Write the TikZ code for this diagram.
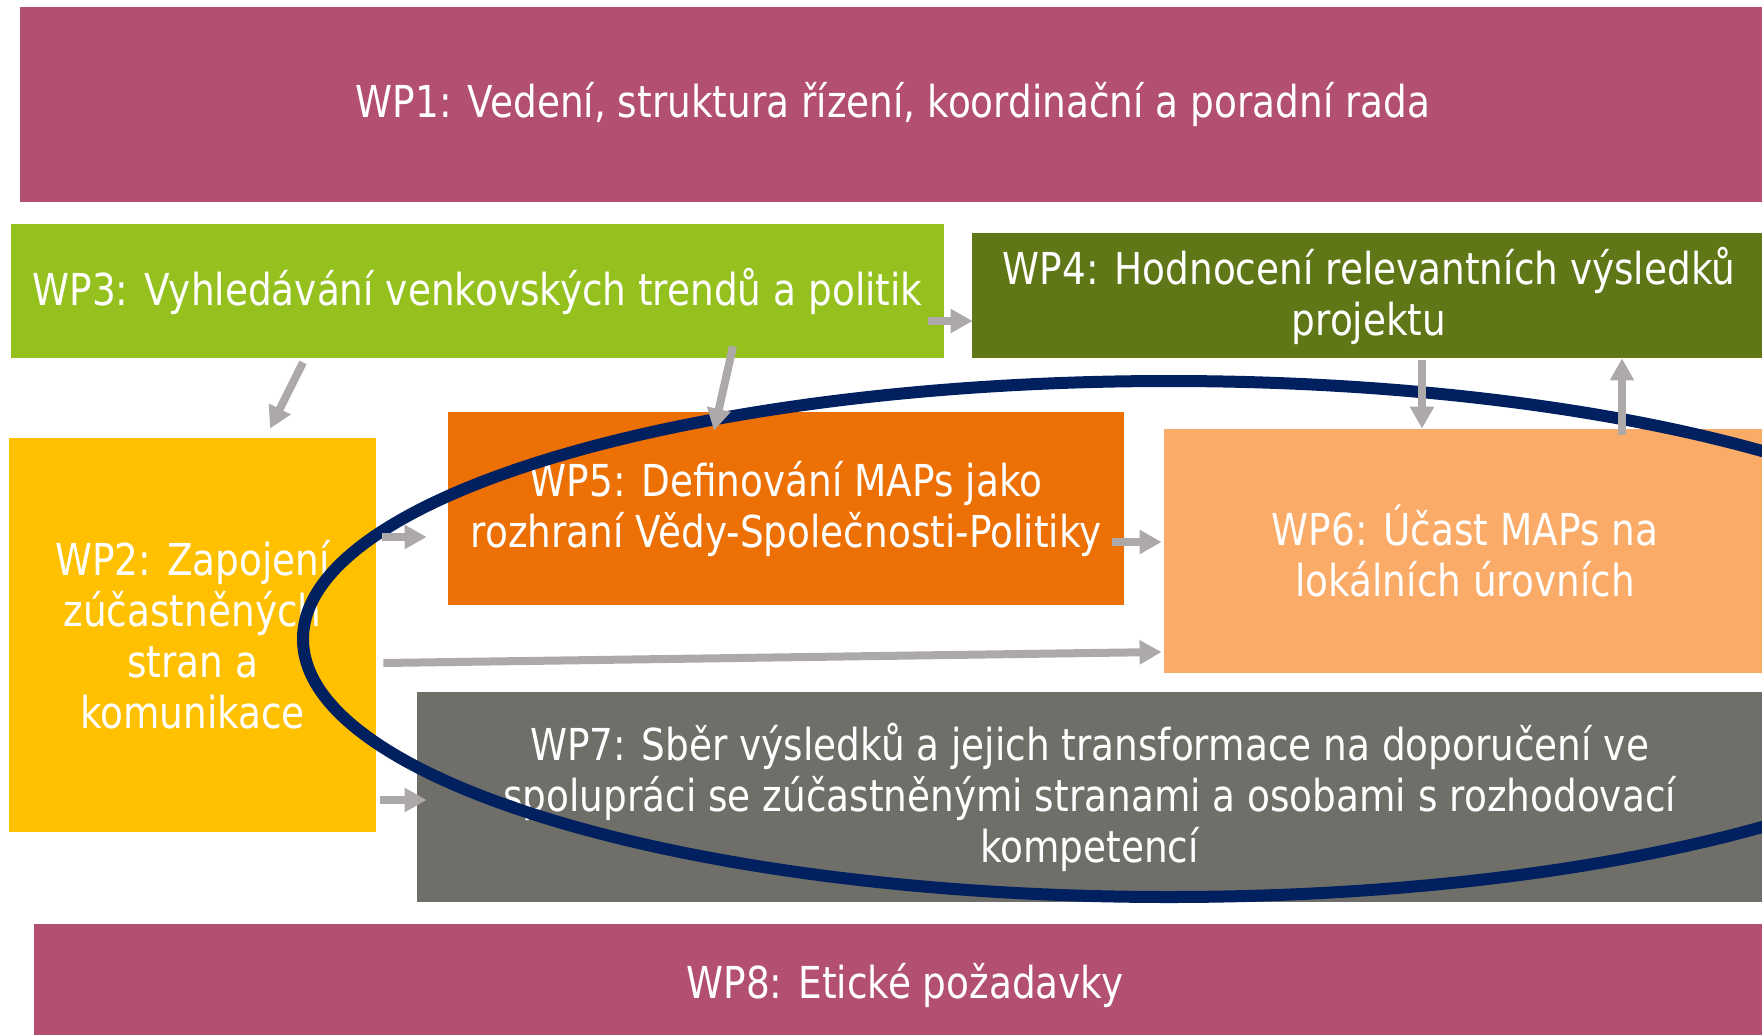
\documentclass[tikz,border=0pt]{standalone}
\usepackage{fontspec}
\setmainfont{DejaVu Sans}[FakeStretch=0.85]
\usetikzlibrary{arrows.meta,calc}
\definecolor{wpberry}{HTML}{B35071}
\definecolor{wplime}{HTML}{95C11F}
\definecolor{wpolive}{HTML}{5F7717}
\definecolor{wpyellow}{HTML}{FFC000}
\definecolor{wporange}{HTML}{EC7004}
\definecolor{wppeach}{HTML}{FBAB68}
\definecolor{wpgrey}{HTML}{706E68}
\definecolor{arrgrey}{HTML}{ADA9A9}
\definecolor{ringblue}{HTML}{002060}

\begin{document}
\begin{tikzpicture}[x=0.5pt,y=-0.5pt,
    wp/.style={rectangle, inner sep=0pt, align=center, text=white, font=\fontsize{22}{25.5}\selectfont},
    arr/.style={draw=arrgrey, line width=4pt, -{Triangle[width=11.5pt,length=11pt]}}]
	\path[use as bounding box, clip] (0,0) rectangle (1762,1034);
	\node[wp, fill=wpberry, minimum width=873pt, minimum height=97.5pt] (wp1) at (893,104.5) {WP1: Vedení, struktura řízení, koordinační a poradní rada};
	\node[wp, fill=wplime, minimum width=466.5pt, minimum height=67pt] (wp3) at (477.5,291) {WP3: Vyhledávání venkovských trendů a politik};
	\node[wp, fill=wpolive, minimum width=397pt, minimum height=62.5pt] (wp4) at (1369,295.5) {WP4: Hodnocení relevantních výsledků\\projektu};
	\node[wp, fill=wpyellow, minimum width=183.5pt, minimum height=197pt] (wp2) at (192.5,635) {WP2: Zapojení\\zúčastněných\\stran a\\komunikace};
	\node[wp, fill=wporange, minimum width=338pt, minimum height=96.5pt] (wp5) at (786,508.5) {WP5: Definování MAPs jako\\rozhraní Vědy-Společnosti-Politiky};
	\node[wp, fill=wppeach, minimum width=301pt, minimum height=122pt] (wp6) at (1465,551) {WP6: Účast MAPs na\\lokálních úrovních};
	\node[wp, fill=wpgrey, minimum width=672.5pt, minimum height=105pt] (wp7) at (1089.5,797) {WP7: Sběr výsledků a jejich transformace na doporučení ve\\spolupráci se zúčastněnými stranami a osobami s rozhodovací\\kompetencí};
	\node[wp, fill=wpberry, minimum width=871pt, minimum height=61pt] (wp8) at (905,985) {WP8: Etické požadavky};
	\draw[ringblue, line width=6pt] (1169,639) ellipse [x radius=866, y radius=258];
	\draw[arr] ($(wp3.east)+(-16,30)$) -- ($(wp4.west)+(1,25.5)$);
	\draw[arr] ($(wp3.south)+(-174.5,4)$) -- ($(wp2.north)+(77.5,-9)$);
	\draw[arr] ($(wp3.south)+(255.5,-12)$) -- ($(wp5.north)+(-72,19)$);
	\draw[arr] ($(wp2.east)+(6,-98)$) -- ($(wp5.west)+(-21,28.5)$);
	\draw[arr] ($(wp5.east)+(-12,33.5)$) -- ($(wp6.west)+(-2,-9)$);
	\draw[arr] ($(wp2.east)+(7,28)$) -- ($(wp6.west)+(-2,101)$);
	\draw[arr] ($(wp2.east)+(4,165)$) -- ($(wp7.west)+(10,3)$);
	\draw[arr] ($(wp4.south)+(53,2)$) -- ($(wp6.north)+(-43,0)$);
	\draw[arr] ($(wp6.north)+(157,6)$) -- ($(wp4.south)+(253,0)$);
\end{tikzpicture}
\end{document}
